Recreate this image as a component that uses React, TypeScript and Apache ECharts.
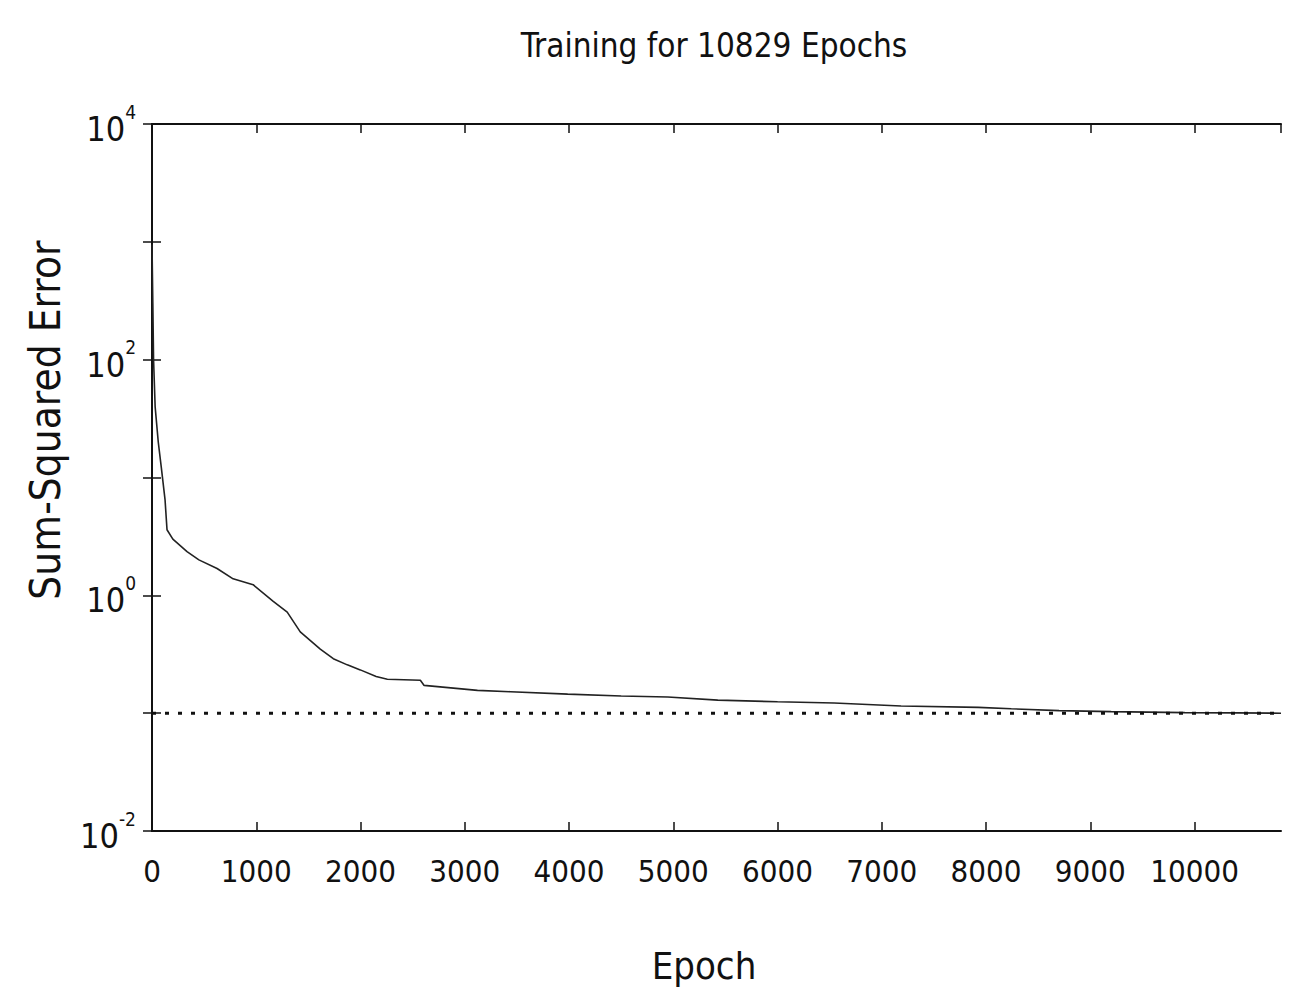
import React, { useEffect, useRef } from "react";
import * as echarts from "echarts";

const TITLE = "Training for 10829 Epochs";
const X_NAME = "Epoch";
const Y_NAME = "Sum-Squared Error";
const EPOCHS_TOTAL = 10829;
const GOAL = 0.1;

const epochs = [
  0, 8, 15, 30, 60, 90, 125, 144, 200, 336, 450, 624, 778, 970, 1163,
  1297, 1422, 1614, 1739, 1873, 1998, 2150, 2257, 2574, 2610, 3122, 3439, 3987,
  4500, 4947, 5427, 6000, 6542, 7185, 7925, 8242, 8700, 9200, 9906, 10400, 10829,
];
const sse = [
  950, 300, 100, 40, 20, 12, 6.5, 3.6, 3.0, 2.35, 2.0, 1.69, 1.38, 1.23,
  0.89, 0.72, 0.49, 0.35, 0.29, 0.257, 0.233, 0.205, 0.194, 0.19, 0.172, 0.156,
  0.152, 0.145, 0.14, 0.137, 0.129, 0.125, 0.122, 0.115, 0.112, 0.109, 0.105,
  0.103, 0.101, 0.1005, 0.0999,
];

const FONT = '"Liberation Sans Narrow", "DejaVu Sans Condensed", "Liberation Sans", sans-serif';

export default function App() {
  const ref = useRef<HTMLDivElement>(null);
  useEffect(() => {
    if (!ref.current) return;
    const chart = echarts.init(ref.current, undefined, { renderer: "svg" });
    const curve = epochs.map((e, i) => [e, sse[i]]);
    const goalLine = [
      [0, GOAL],
      [EPOCHS_TOTAL, GOAL],
    ];
    const axisLine = { show: true, lineStyle: { color: "#111", width: 2 } };
    const tick = { show: true, inside: true, length: 9, lineStyle: { color: "#111", width: 1.5 } };
    const supLabel = (v: number) => {
      const e = Math.round(Math.log10(v));
      if (e % 2 !== 0) return "";
      return `{b|10}{s|${e}}`;
    };
    chart.setOption({
      animation: false,
      backgroundColor: "#fff",
      textStyle: { fontFamily: FONT, color: "#111" },
      grid: { left: 152, right: 9, top: 124, bottom: 166 },
      xAxis: [
        {
          type: "value",
          min: 0,
          max: EPOCHS_TOTAL,
          interval: 1000,
          axisLine,
          axisTick: tick,
          splitLine: { show: false },
          axisLabel: {
            showMaxLabel: false,
            margin: 24,
            fontSize: 31,
            fontFamily: FONT,
            color: "#111",
            formatter: (v: number) => (v % 1000 === 0 ? String(v) : ""),
          },
        },
        {
          type: "value",
          position: "top",
          min: 0,
          max: EPOCHS_TOTAL,
          interval: 1000,
          axisLine,
          axisTick: tick,
          splitLine: { show: false },
          axisLabel: { show: false },
        },
      ],
      yAxis: [
        {
          type: "log",
          logBase: 10,
          min: 0.01,
          max: 10000,
          splitNumber: 6,
          axisLine,
          axisTick: tick,
          splitLine: { show: false },
          axisLabel: {
            margin: 16,
            fontFamily: FONT,
            color: "#111",
            formatter: supLabel,
            rich: {
              b: { fontSize: 34, fontFamily: FONT, color: "#111", verticalAlign: "bottom", lineHeight: 44 },
              s: { fontSize: 19, fontFamily: FONT, color: "#111", verticalAlign: "top", lineHeight: 44 },
            },
          },
        },
        {
          type: "log",
          logBase: 10,
          min: 0.01,
          max: 10000,
          splitNumber: 6,
          position: "right",
          axisLine,
          axisTick: tick,
          splitLine: { show: false },
          axisLabel: { show: false },
        },
      ],
      graphic: [
        {
          type: "text",
          x: 714,
          y: 45,
          style: {
            text: TITLE,
            fontSize: 33,
            fontFamily: FONT,
            fill: "#111",
            align: "center",
            verticalAlign: "middle",
          },
        },
        {
          type: "text",
          x: 704,
          y: 966,
          style: {
            text: X_NAME,
            fontSize: 38,
            fontFamily: FONT,
            fill: "#111",
            align: "center",
            verticalAlign: "middle",
          },
        },
        {
          type: "text",
          x: 45,
          y: 420,
          rotation: Math.PI / 2,
          style: {
            text: Y_NAME,
            fontSize: 42,
            fontFamily: FONT,
            fill: "#111",
            align: "center",
            verticalAlign: "middle",
          },
        },
      ],
      series: [
        {
          type: "line",
          name: "SSE",
          data: curve,
          xAxisIndex: 0,
          yAxisIndex: 0,
          showSymbol: false,
          lineStyle: { color: "#222", width: 1.6 },
        },
        {
          type: "line",
          name: "Goal",
          data: goalLine,
          xAxisIndex: 0,
          yAxisIndex: 0,
          showSymbol: false,
          lineStyle: { color: "#111", width: 3, type: [4, 9] },
        },
      ],
    });
    return () => chart.dispose();
  }, []);
  return (
    <div
      ref={ref}
      style={{ position: "absolute", left: 0, top: 0, width: 1290, height: 997, background: "#fff" }}
    />
  );
}
